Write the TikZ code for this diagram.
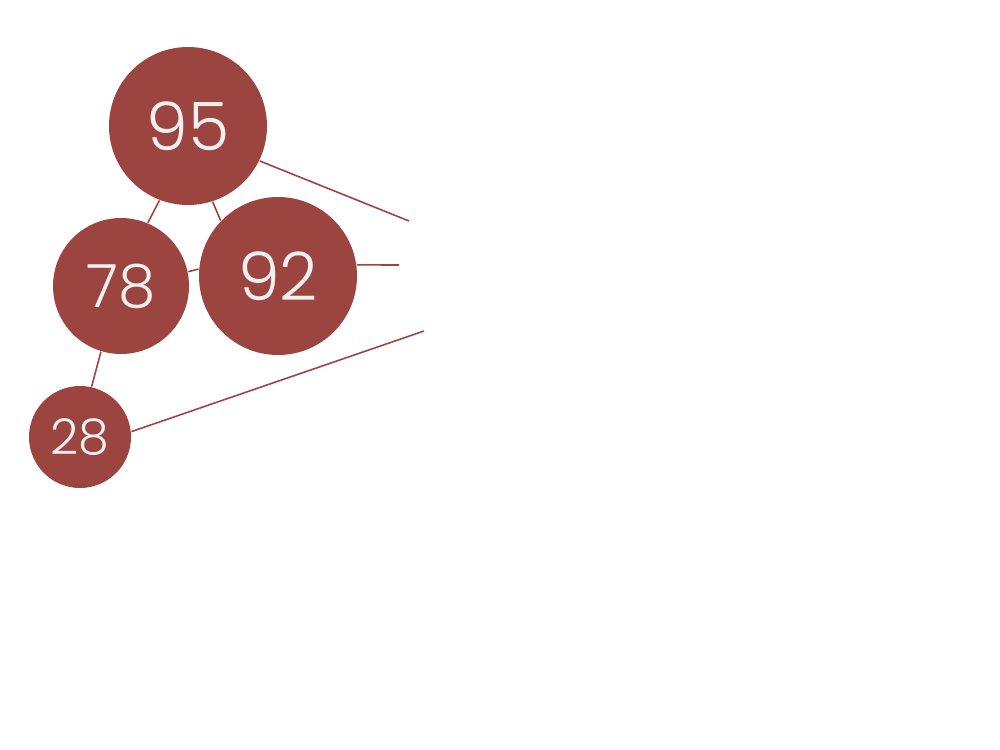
\documentclass[tikz,border=0pt]{standalone}
\usepackage{fontspec}
\usepackage{tikz}
\usetikzlibrary{
  positioning
}
\newfontfamily\numfont{Poppins Light}
\definecolor{brick}{HTML}{9B4440}
\definecolor{chalk}{HTML}{F2F0EE}
\tikzset{
  bubble/.style={
    circle,
    fill=brick,
    draw=none,
    inner sep=0pt,
    text=chalk,
    font=\numfont
  },
  link/.style={
    draw=brick,
    line width=0.45pt
  }
}

\begin{document}
\begin{tikzpicture}[x=0.1mm, y=-0.1mm]
  \useasboundingbox (0,0) rectangle (1000,750);
  \node[bubble, minimum size=15.8mm, font=\numfont\fontsize{19}{19}\selectfont]
    (n95) at (188,126) {95};
  \node[bubble, minimum size=13.6mm, font=\numfont\fontsize{17}{17}\selectfont]
    (n78) at (121,286) {78};
  \node[bubble, minimum size=15.8mm, font=\numfont\fontsize{19}{19}\selectfont]
    (n92) at (278,276) {92};
  \node[bubble, minimum size=10.2mm, font=\numfont\fontsize{14}{14}\selectfont]
    (n28) at (80,437) {28};

  \coordinate (tip95) at (409,221);
  \coordinate (tip92) at (399,265);
  \coordinate (tip28) at (424,331);

  \draw[link] (n95.-111) -- (n78.67);
  \draw[link] (n95.-72) -- (n92.136);
  \draw[link] (n78.12) -- (n92.175);
  \draw[link] (n78.-107) -- (n28.77);
  \draw[link] (n95.-26) -- (tip95);
  \draw[link] (n92.8) -- (tip92);
  \draw[link] (n28.6) -- (tip28);
\end{tikzpicture}
\end{document}
